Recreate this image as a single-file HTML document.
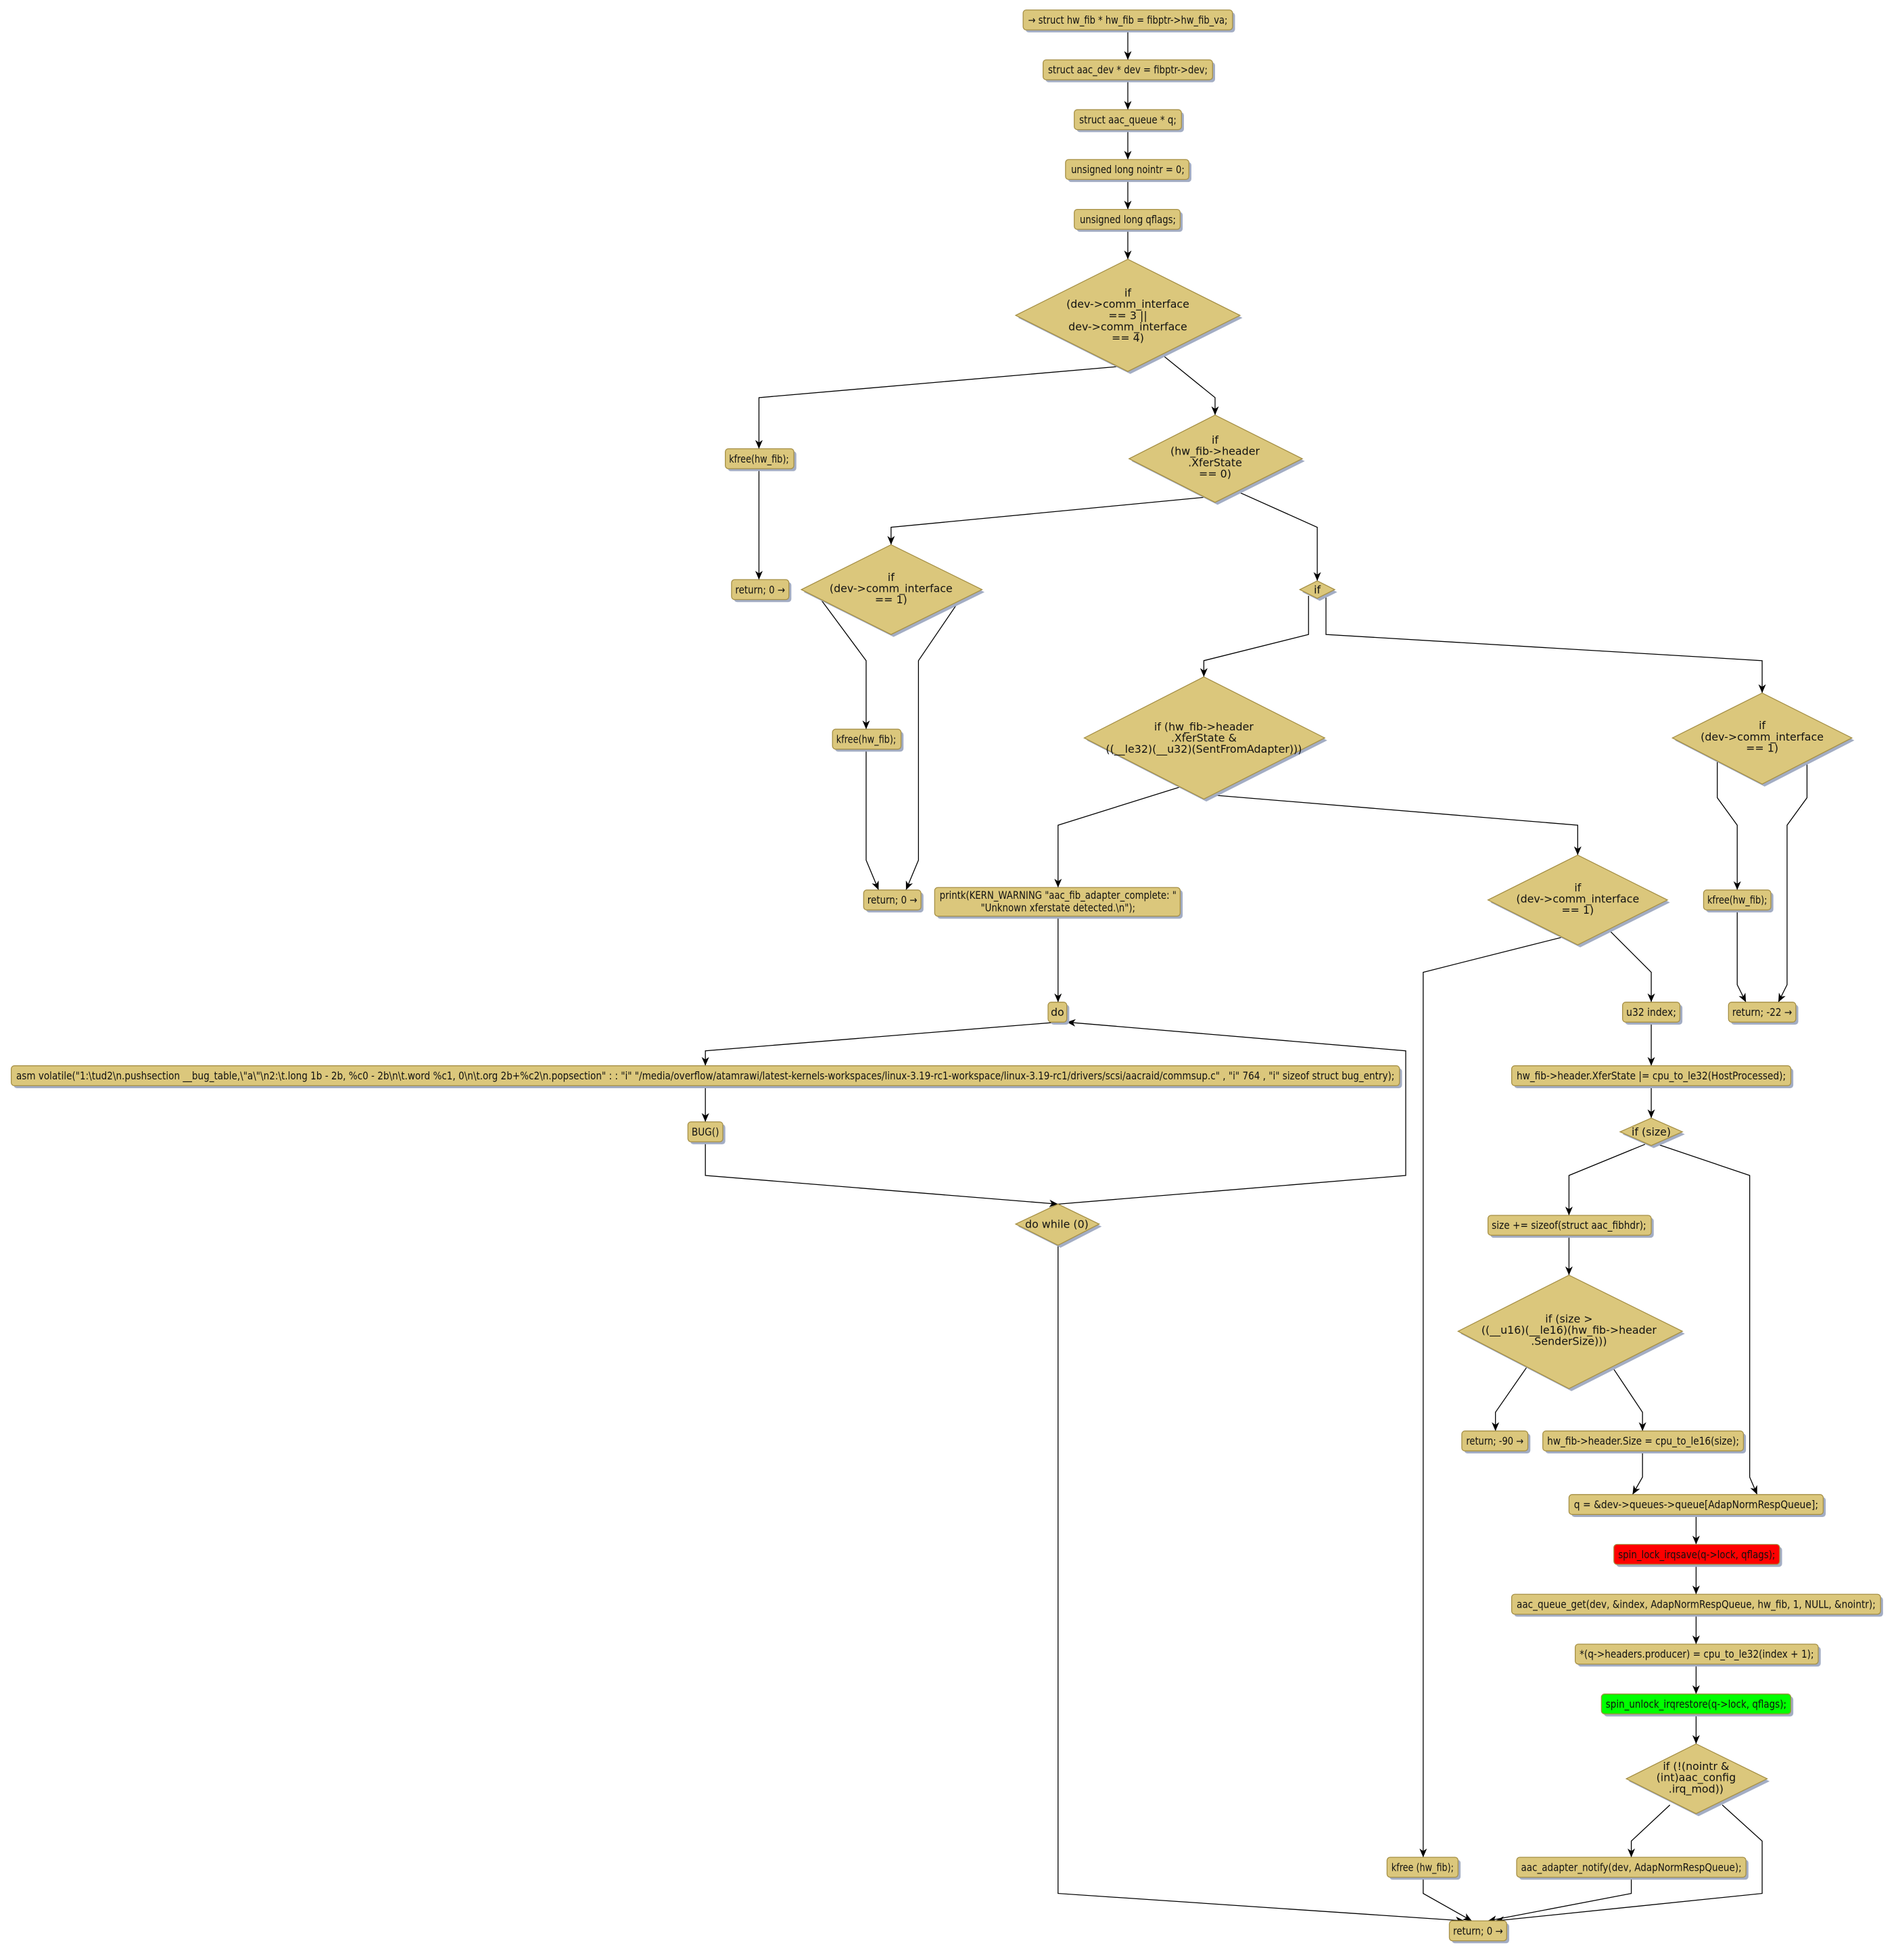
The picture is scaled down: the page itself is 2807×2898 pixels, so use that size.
<!DOCTYPE html>
<html><head><meta charset="utf-8"><style>
html,body{margin:0;padding:0;background:#fff;}
svg{display:block;}
text{font-family:"DejaVu Sans","Liberation Sans",sans-serif;font-size:8.6px;fill:#111;}
.b{fill:#dbc77c;stroke:#a58f45;stroke-width:0.7;}
.s{fill:#a3adc4;}
.l{fill:none;stroke:#000;stroke-width:0.7;}
</style></head><body>
<svg width="2807" height="2898" viewBox="0 0 1523 1572.4" xmlns="http://www.w3.org/2000/svg">
<defs>
<marker id="a" markerUnits="userSpaceOnUse" markerWidth="8" markerHeight="10" refX="7" refY="3" orient="auto">
<path d="M0,0 L7,3 L0,6 L2,3 Z" fill="#000"/>
</marker>
</defs>

<!-- edges -->
<g class="l" marker-end="url(#a)">
<polyline points="905,24 905,48"/>
<polyline points="905,64 905,88"/>
<polyline points="905,104 905,128"/>
<polyline points="905,144 905,168"/>
<polyline points="905,184 905,208"/>
<polyline points="898,294 609,319 609,360"/>
<polyline points="933,285 975,319 975,333"/>
<polyline points="609,375 609,465"/>
<polyline points="966,399 715,423 715,437"/>
<polyline points="990,393 1057,423 1057,466"/>
<polyline points="658,480 695,530 695,585"/>
<polyline points="771,480 737,530 737,690 727,714"/>
<polyline points="695,600 695,690 705,714"/>
<polyline points="1050,478 1050,509 966,530 966,543"/>
<polyline points="1064,478 1064,509 1414,530 1414,556"/>
<polyline points="948,631 849,662 849,712"/>
<polyline points="975,638 1266,662 1266,686"/>
<polyline points="1378,611 1378,640 1394,662 1394,714"/>
<polyline points="1450,611 1450,640 1434,662 1434,790 1427,804"/>
<polyline points="1394,730 1394,790 1401,804"/>
<polyline points="1253,752 1142,780 1142,1490"/>
<polyline points="1290,745 1325,780 1325,804"/>
<polyline points="849,735 849,804"/>
<polyline points="849,820 566,843 566,855"/>
<polyline points="566,870 566,900"/>
<polyline points="566,915 566,943 849,966"/>
<polyline points="849,966 1128,943 1128,843 856,820"/>
<polyline points="849,999 849,1519 1175,1541"/>
<polyline points="1325,820 1325,855"/>
<polyline points="1325,870 1325,897"/>
<polyline points="1320,918 1259,943 1259,975"/>
<polyline points="1330,918 1404,943 1404,1185 1410,1199"/>
<polyline points="1259,990 1259,1023"/>
<polyline points="1225,1097 1200,1133 1200,1148"/>
<polyline points="1294,1097 1318,1133 1318,1148"/>
<polyline points="1318,1164 1318,1185 1310,1199"/>
<polyline points="1361,1215 1361,1239"/>
<polyline points="1361,1255 1361,1279"/>
<polyline points="1361,1295 1361,1319"/>
<polyline points="1361,1335 1361,1359"/>
<polyline points="1361,1375 1361,1399"/>
<polyline points="1340,1448 1309,1477 1309,1490"/>
<polyline points="1382,1448 1414,1477 1414,1519 1200,1541"/>
<polyline points="1142,1506 1142,1519 1181,1541"/>
<polyline points="1309,1506 1309,1519 1194,1541"/>
</g>

<!-- boxes -->
<g>
<rect class="s" x="823" y="10" width="168" height="16" rx="2.5"/><rect class="b" x="821" y="8" width="168" height="16" rx="2.5"/>
<text x="905" y="19" text-anchor="middle" textLength="160" lengthAdjust="spacingAndGlyphs">→ struct hw_fib * hw_fib = fibptr-&gt;hw_fib_va;</text>

<rect class="s" x="839" y="50" width="136" height="16" rx="2.5"/><rect class="b" x="837" y="48" width="136" height="16" rx="2.5"/>
<text x="905" y="59" text-anchor="middle" textLength="128" lengthAdjust="spacingAndGlyphs">struct aac_dev * dev = fibptr-&gt;dev;</text>

<rect class="s" x="864" y="90" width="86" height="16" rx="2.5"/><rect class="b" x="862" y="88" width="86" height="16" rx="2.5"/>
<text x="905" y="99" text-anchor="middle" textLength="78" lengthAdjust="spacingAndGlyphs">struct aac_queue * q;</text>

<rect class="s" x="857" y="130" width="99" height="16" rx="2.5"/><rect class="b" x="855" y="128" width="99" height="16" rx="2.5"/>
<text x="905" y="139" text-anchor="middle" textLength="91" lengthAdjust="spacingAndGlyphs">unsigned long nointr = 0;</text>

<rect class="s" x="864" y="170" width="85" height="16" rx="2.5"/><rect class="b" x="862" y="168" width="85" height="16" rx="2.5"/>
<text x="905" y="179" text-anchor="middle" textLength="77" lengthAdjust="spacingAndGlyphs">unsigned long qflags;</text>

<rect class="s" x="584" y="362" width="55" height="16" rx="2.5"/><rect class="b" x="582" y="360" width="55" height="16" rx="2.5"/>
<text x="609" y="371" text-anchor="middle" textLength="48" lengthAdjust="spacingAndGlyphs">kfree(hw_fib);</text>

<rect class="s" x="589" y="467" width="46" height="16" rx="2.5"/><rect class="b" x="587" y="465" width="46" height="16" rx="2.5"/>
<text x="610" y="476" text-anchor="middle" textLength="40" lengthAdjust="spacingAndGlyphs">return; 0 →</text>

<rect class="s" x="670" y="587" width="55" height="16" rx="2.5"/><rect class="b" x="668" y="585" width="55" height="16" rx="2.5"/>
<text x="695" y="596" text-anchor="middle" textLength="48" lengthAdjust="spacingAndGlyphs">kfree(hw_fib);</text>

<rect class="s" x="695" y="716" width="46" height="16" rx="2.5"/><rect class="b" x="693" y="714" width="46" height="16" rx="2.5"/>
<text x="716" y="725" text-anchor="middle" textLength="40" lengthAdjust="spacingAndGlyphs">return; 0 →</text>

<rect class="s" x="1369" y="716" width="54" height="16" rx="2.5"/><rect class="b" x="1367" y="714" width="54" height="16" rx="2.5"/>
<text x="1394" y="725" text-anchor="middle" textLength="48" lengthAdjust="spacingAndGlyphs">kfree(hw_fib);</text>

<rect class="s" x="1389" y="806" width="54" height="16" rx="2.5"/><rect class="b" x="1387" y="804" width="54" height="16" rx="2.5"/>
<text x="1414" y="815" text-anchor="middle" textLength="48" lengthAdjust="spacingAndGlyphs">return; -22 →</text>

<rect class="s" x="752" y="714" width="197" height="23" rx="2.5"/><rect class="b" x="750" y="712" width="197" height="23" rx="2.5"/>
<text x="849" y="721" text-anchor="middle" textLength="190" lengthAdjust="spacingAndGlyphs">printk(KERN_WARNING "aac_fib_adapter_complete: "</text>
<text x="849" y="731" text-anchor="middle" textLength="124" lengthAdjust="spacingAndGlyphs">"Unknown xferstate detected.\n");</text>

<rect class="s" x="843" y="806" width="15" height="16" rx="2.5"/><rect class="b" x="841" y="804" width="15" height="16" rx="2.5"/>
<text x="848.5" y="815" text-anchor="middle">do</text>

<rect class="s" x="1304" y="806" width="46" height="16" rx="2.5"/><rect class="b" x="1302" y="804" width="46" height="16" rx="2.5"/>
<text x="1325" y="815" text-anchor="middle" textLength="40" lengthAdjust="spacingAndGlyphs">u32 index;</text>

<rect class="s" x="11" y="857" width="1114" height="16" rx="2.5"/><rect class="b" x="9" y="855" width="1114" height="16" rx="2.5"/>
<text x="566" y="866" text-anchor="middle" textLength="1106" lengthAdjust="spacingAndGlyphs">asm volatile("1:\tud2\n.pushsection __bug_table,\"a\"\n2:\t.long 1b - 2b, %c0 - 2b\n\t.word %c1, 0\n\t.org 2b+%c2\n.popsection" : : "i" "/media/overflow/atamrawi/latest-kernels-workspaces/linux-3.19-rc1-workspace/linux-3.19-rc1/drivers/scsi/aacraid/commsup.c" , "i" 764 , "i" sizeof struct bug_entry);</text>

<rect class="s" x="1215" y="857" width="224" height="16" rx="2.5"/><rect class="b" x="1213" y="855" width="224" height="16" rx="2.5"/>
<text x="1325" y="866" text-anchor="middle" textLength="216" lengthAdjust="spacingAndGlyphs">hw_fib-&gt;header.XferState |= cpu_to_le32(HostProcessed);</text>

<rect class="s" x="554" y="902" width="28" height="16" rx="2.5"/><rect class="b" x="552" y="900" width="28" height="16" rx="2.5"/>
<text x="566" y="911" text-anchor="middle" textLength="22" lengthAdjust="spacingAndGlyphs">BUG()</text>

<rect class="s" x="1196" y="977" width="131" height="16" rx="2.5"/><rect class="b" x="1194" y="975" width="131" height="16" rx="2.5"/>
<text x="1259" y="986" text-anchor="middle" textLength="124" lengthAdjust="spacingAndGlyphs">size += sizeof(struct aac_fibhdr);</text>

<rect class="s" x="1175" y="1150" width="53" height="16" rx="2.5"/><rect class="b" x="1173" y="1148" width="53" height="16" rx="2.5"/>
<text x="1199.5" y="1159" text-anchor="middle" textLength="46" lengthAdjust="spacingAndGlyphs">return; -90 →</text>

<rect class="s" x="1240" y="1150" width="161" height="16" rx="2.5"/><rect class="b" x="1238" y="1148" width="161" height="16" rx="2.5"/>
<text x="1318.5" y="1159" text-anchor="middle" textLength="154" lengthAdjust="spacingAndGlyphs">hw_fib-&gt;header.Size = cpu_to_le16(size);</text>

<rect class="s" x="1261" y="1201" width="204" height="16" rx="2.5"/><rect class="b" x="1259" y="1199" width="204" height="16" rx="2.5"/>
<text x="1361" y="1210" text-anchor="middle" textLength="196" lengthAdjust="spacingAndGlyphs">q = &amp;dev-&gt;queues-&gt;queue[AdapNormRespQueue];</text>

<rect class="s" x="1297" y="1241" width="133" height="16" rx="2.5"/><rect x="1295" y="1239" width="133" height="16" rx="2.5" fill="#ff0000" stroke="#a58f45" stroke-width="0.7"/>
<text x="1361.5" y="1250" text-anchor="middle" textLength="126" lengthAdjust="spacingAndGlyphs">spin_lock_irqsave(q-&gt;lock, qflags);</text>

<rect class="s" x="1215" y="1281" width="296" height="16" rx="2.5"/><rect class="b" x="1213" y="1279" width="296" height="16" rx="2.5"/>
<text x="1361" y="1290" text-anchor="middle" textLength="288" lengthAdjust="spacingAndGlyphs">aac_queue_get(dev, &amp;index, AdapNormRespQueue, hw_fib, 1, NULL, &amp;nointr);</text>

<rect class="s" x="1266" y="1321" width="195" height="16" rx="2.5"/><rect class="b" x="1264" y="1319" width="195" height="16" rx="2.5"/>
<text x="1361.5" y="1330" text-anchor="middle" textLength="188" lengthAdjust="spacingAndGlyphs">*(q-&gt;headers.producer) = cpu_to_le32(index + 1);</text>

<rect class="s" x="1287" y="1361" width="152" height="16" rx="2.5"/><rect x="1285" y="1359" width="152" height="16" rx="2.5" fill="#00ff00" stroke="#a58f45" stroke-width="0.7"/>
<text x="1361" y="1370" text-anchor="middle" textLength="145" lengthAdjust="spacingAndGlyphs">spin_unlock_irqrestore(q-&gt;lock, qflags);</text>

<rect class="s" x="1115" y="1492" width="57" height="16" rx="2.5"/><rect class="b" x="1113" y="1490" width="57" height="16" rx="2.5"/>
<text x="1141.5" y="1501" text-anchor="middle" textLength="50" lengthAdjust="spacingAndGlyphs">kfree (hw_fib);</text>

<rect class="s" x="1219" y="1492" width="184" height="16" rx="2.5"/><rect class="b" x="1217" y="1490" width="184" height="16" rx="2.5"/>
<text x="1309" y="1501" text-anchor="middle" textLength="177" lengthAdjust="spacingAndGlyphs">aac_adapter_notify(dev, AdapNormRespQueue);</text>

<rect class="s" x="1165" y="1543" width="46" height="16" rx="2.5"/><rect class="b" x="1163" y="1541" width="46" height="16" rx="2.5"/>
<text x="1186" y="1552" text-anchor="middle" textLength="40" lengthAdjust="spacingAndGlyphs">return; 0 →</text>
</g>

<!-- diamonds -->
<g>
<polygon class="s" points="907,210 997,255 907,300 817,255"/>
<polygon class="b" points="905,208 995,253 905,298 815,253"/>
<text x="905" y="238" text-anchor="middle">if</text>
<text x="905" y="247" text-anchor="middle">(dev-&gt;comm_interface</text>
<text x="905" y="256" text-anchor="middle">== 3 ||</text>
<text x="905" y="265" text-anchor="middle">dev-&gt;comm_interface</text>
<text x="905" y="274" text-anchor="middle">== 4)</text>

<polygon class="s" points="977,335 1047,370 977,405 908,370"/>
<polygon class="b" points="975,333 1045,368 975,403 906,368"/>
<text x="975" y="356" text-anchor="middle">if</text>
<text x="975" y="365" text-anchor="middle">(hw_fib-&gt;header</text>
<text x="975" y="374" text-anchor="middle">.XferState</text>
<text x="975" y="383" text-anchor="middle">== 0)</text>

<polygon class="s" points="717,439 790,475 717,511 645,475"/>
<polygon class="b" points="715,437 788,473 715,509 643,473"/>
<text x="715" y="466" text-anchor="middle">if</text>
<text x="715" y="475" text-anchor="middle">(dev-&gt;comm_interface</text>
<text x="715" y="484" text-anchor="middle">== 1)</text>

<polygon class="s" points="1059,468 1073,475 1059,482 1045,475"/>
<polygon class="b" points="1057,466 1071,473 1057,480 1043,473"/>
<text x="1057" y="476" text-anchor="middle">if</text>

<polygon class="s" points="968,545 1065,594 968,643 872,594"/>
<polygon class="b" points="966,543 1063,592 966,641 870,592"/>
<text x="966" y="586" text-anchor="middle">if (hw_fib-&gt;header</text>
<text x="966" y="595" text-anchor="middle">.XferState &amp;</text>
<text x="966" y="604" text-anchor="middle">((__le32)(__u32)(SentFromAdapter)))</text>

<polygon class="s" points="1416,558 1488,594 1416,631 1344,594"/>
<polygon class="b" points="1414,556 1486,592 1414,629 1342,592"/>
<text x="1414" y="585" text-anchor="middle">if</text>
<text x="1414" y="594" text-anchor="middle">(dev-&gt;comm_interface</text>
<text x="1414" y="603" text-anchor="middle">== 1)</text>

<polygon class="s" points="1268,688 1340,724 1268,760 1196,724"/>
<polygon class="b" points="1266,686 1338,722 1266,758 1194,722"/>
<text x="1266" y="715" text-anchor="middle">if</text>
<text x="1266" y="724" text-anchor="middle">(dev-&gt;comm_interface</text>
<text x="1266" y="733" text-anchor="middle">== 1)</text>

<polygon class="s" points="1327,899 1352,910 1327,921 1302,910"/>
<polygon class="b" points="1325,897 1350,908 1325,919 1300,908"/>
<text x="1325" y="911" text-anchor="middle">if (size)</text>

<polygon class="s" points="851,968 884,984 851,1001 817,984"/>
<polygon class="b" points="849,966 882,982 849,999 815,982"/>
<text x="848" y="985" text-anchor="middle">do while (0)</text>

<polygon class="s" points="1261,1025 1352,1070 1261,1116 1172,1070"/>
<polygon class="b" points="1259,1023 1350,1068 1259,1114 1170,1068"/>
<text x="1259" y="1061" text-anchor="middle">if (size &gt;</text>
<text x="1259" y="1070" text-anchor="middle">((__u16)(__le16)(hw_fib-&gt;header</text>
<text x="1259" y="1079" text-anchor="middle">.SenderSize)))</text>

<polygon class="s" points="1363,1401 1420,1429 1363,1457 1307,1429"/>
<polygon class="b" points="1361,1399 1418,1427 1361,1455 1305,1427"/>
<text x="1361" y="1420" text-anchor="middle">if (!(nointr &amp;</text>
<text x="1361" y="1429" text-anchor="middle">(int)aac_config</text>
<text x="1361" y="1438" text-anchor="middle">.irq_mod))</text>
</g>
</svg>
</body></html>
